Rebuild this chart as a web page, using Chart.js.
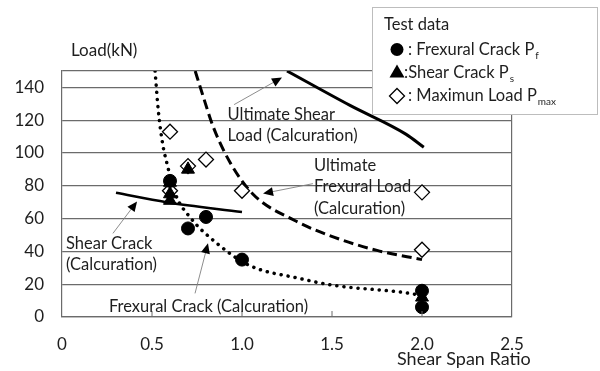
<!DOCTYPE html>
<html>
<head>
<meta charset="utf-8">
<script src="https://cdn.jsdelivr.net/npm/chart.js@4.4.1/dist/chart.umd.min.js"></script>
<style>
  html, body { margin: 0; background: #fff; }
</style>
</head>
<body>
<canvas id="chart" width="600" height="371"></canvas>
<script>
// test data (shear span ratio, load kN)
const flexCrackX = [0.6, 0.7, 0.8, 1.0, 2.0, 2.0];
const flexCrackY = [83, 54, 61, 35, 16, 6];
const shearCrackX = [0.6, 0.6, 0.6, 0.7, 2.0];
const shearCrackY = [82, 75, 71, 90, 12];
const maxLoadX = [0.6, 0.6, 0.7, 0.8, 1.0, 2.0, 2.0];
const maxLoadY = [113, 77, 92, 96, 77, 76, 41];

// calculated curves
const calcFlexCrackX = [0.517, 0.535, 0.56, 0.58, 0.63, 0.71, 0.86, 1.04, 1.32, 1.51, 1.88, 2.0];
const calcFlexCrackY = [150, 126, 105, 95, 75, 61, 45, 31.5, 23.5, 19.3, 15.2, 13.2];
const calcFlexLoadX = [0.74, 0.78, 0.84, 0.93, 1.06, 1.29, 1.51, 1.75, 2.0];
const calcFlexLoadY = [150, 136, 116, 95, 75, 59, 48.7, 40.6, 35];
const calcShearLoadX = [1.25, 1.6, 1.91, 2.01];
const calcShearLoadY = [150, 129, 111.5, 103.5];
const calcShearCrackX = [0.3, 0.58, 1.0];
const calcShearCrackY = [75.7, 70, 64];

const xTicks = [0, 0.5, 1, 1.5, 2, 2.5];
const yTicks = [0, 20, 40, 60, 80, 100, 120, 140];

const FONT = "Lato, 'Open Sans', sans-serif";
const TEXT = "#1e1e1e";
const GRID = "#6b6b6b";

const pts = (xs, ys) => xs.map((x, i) => ({ x, y: ys[i] }));

function arrow(ctx, x1, y1, x2, y2) {
  const ang = Math.atan2(y2 - y1, x2 - x1);
  ctx.strokeStyle = "#808080";
  ctx.lineWidth = 0.9;
  ctx.beginPath();
  ctx.moveTo(x1, y1);
  ctx.lineTo(x2 - 6 * Math.cos(ang), y2 - 6 * Math.sin(ang));
  ctx.stroke();
  ctx.fillStyle = "#000";
  ctx.beginPath();
  ctx.moveTo(x2, y2);
  ctx.lineTo(x2 - 10 * Math.cos(ang) + 4.5 * Math.sin(ang), y2 - 10 * Math.sin(ang) - 4.5 * Math.cos(ang));
  ctx.lineTo(x2 - 10 * Math.cos(ang) - 4.5 * Math.sin(ang), y2 - 10 * Math.sin(ang) + 4.5 * Math.cos(ang));
  ctx.closePath();
  ctx.fill();
}

// labels on the plot, placed in data units
const notes = [
  { lines: ["Ultimate Shear", "Load (Calcuration)"], x: 0.92, y: 123.4, from: [0.956, 129.5], to: [1.222, 146] },
  { lines: ["Ultimate", "Frexural Load", "(Calcuration)"], x: 1.40, y: 92.4, from: [1.394, 81.3], to: [1.117, 75.3] },
  { lines: ["Shear Crack", "(Calcuration)"], x: 0.022, y: 44.9, from: [0.283, 51], to: [0.417, 70.5] },
  { lines: ["Frexural Crack (Calcuration)"], x: 0.261, y: 6.5, from: [0.739, 14.4], to: [0.811, 44.9] },
];

const decor = {
  id: "decor",
  afterDatasetsDraw(chart) {
    const { ctx, scales: { x, y } } = chart;
    ctx.save();
    // small inner tick marks on the x axis
    ctx.strokeStyle = GRID;
    ctx.lineWidth = 1;
    xTicks.slice(1, -1).forEach((t) => {
      const px = x.getPixelForValue(t);
      ctx.beginPath();
      ctx.moveTo(px, y.bottom);
      ctx.lineTo(px, y.bottom - 6);
      ctx.stroke();
    });
    // annotations
    ctx.font = "16.5px " + FONT;
    ctx.textBaseline = "middle";
    notes.forEach((n) => {
      arrow(ctx, x.getPixelForValue(n.from[0]), y.getPixelForValue(n.from[1]),
        x.getPixelForValue(n.to[0]), y.getPixelForValue(n.to[1]));
      ctx.fillStyle = TEXT;
      const x0 = x.getPixelForValue(n.x);
      const y0 = y.getPixelForValue(n.y);
      n.lines.forEach((s, i) => ctx.fillText(s, x0, y0 + i * 21.5));
    });
    // axis titles
    ctx.fillStyle = TEXT;
    ctx.textAlign = "left";
    ctx.font = "17px " + FONT;
    ctx.fillText("Load(kN)", 71, 51);
    ctx.font = "18px " + FONT;
    ctx.fillText("Shear Span Ratio", 397, 359);
    ctx.restore();
  },
  afterDraw(chart) {
    const { ctx } = chart;
    ctx.save();
    // legend box
    ctx.fillStyle = "#fff";
    ctx.fillRect(372, 7, 226, 108);
    ctx.strokeStyle = "#bdbdbd";
    ctx.lineWidth = 1;
    ctx.strokeRect(372.5, 7.5, 225, 107);
    ctx.fillStyle = TEXT;
    ctx.textBaseline = "middle";
    ctx.font = "16.5px " + FONT;
    ctx.fillText("Test data", 384, 25);
    // markers
    ctx.fillStyle = "#000";
    ctx.beginPath();
    ctx.arc(397, 49.5, 6.5, 0, Math.PI * 2);
    ctx.fill();
    ctx.beginPath();
    ctx.moveTo(397, 64.5);
    ctx.lineTo(404.5, 77.5);
    ctx.lineTo(389.5, 77.5);
    ctx.closePath();
    ctx.fill();
    ctx.strokeStyle = "#000";
    ctx.lineWidth = 1.3;
    ctx.beginPath();
    ctx.moveTo(397, 88.5);
    ctx.lineTo(404.5, 96);
    ctx.lineTo(397, 103.5);
    ctx.lineTo(389.5, 96);
    ctx.closePath();
    ctx.stroke();
    // entries with subscripts
    const rows = [
      [": Frexural Crack P", "f", 408, 50],
      [":Shear Crack P", "s", 404, 73],
      [": Maximun Load P", "max", 408, 96],
    ];
    ctx.fillStyle = TEXT;
    rows.forEach(([main, sub, lx, ly]) => {
      ctx.font = "16.5px " + FONT;
      ctx.fillText(main, lx, ly);
      const w = ctx.measureText(main).width;
      ctx.font = "10px " + FONT;
      ctx.fillText(sub, lx + w + 1, ly + 6);
    });
    ctx.restore();
  },
};

new Chart(document.getElementById("chart"), {
  type: "scatter",
  data: {
    datasets: [
      {
        label: "Shear Crack Ps",
        data: pts(shearCrackX, shearCrackY),
        pointStyle: "triangle",
        pointRadius: 7.5,
        backgroundColor: "#000",
        borderColor: "#000",
      },
      {
        label: "Frexural Crack Pf",
        data: pts(flexCrackX, flexCrackY),
        pointStyle: "circle",
        pointRadius: 6.5,
        backgroundColor: "#000",
        borderColor: "#000",
      },
      {
        label: "Maximun Load Pmax",
        data: pts(maxLoadX, maxLoadY),
        pointStyle: "rectRot",
        pointRadius: 7.5,
        backgroundColor: "#fff",
        borderColor: "#000",
        borderWidth: 1.3,
      },
      {
        label: "Frexural Crack (Calc)",
        data: pts(calcFlexCrackX, calcFlexCrackY),
        showLine: true,
        pointRadius: 0,
        borderColor: "#000",
        borderWidth: 3.5,
        borderDash: [0.1, 7],
        borderCapStyle: "round",
        cubicInterpolationMode: "monotone",
      },
      {
        label: "Ultimate Frexural Load (Calc)",
        data: pts(calcFlexLoadX, calcFlexLoadY),
        showLine: true,
        pointRadius: 0,
        borderColor: "#000",
        borderWidth: 3,
        borderDash: [10, 5],
        cubicInterpolationMode: "monotone",
      },
      {
        label: "Ultimate Shear Load (Calc)",
        data: pts(calcShearLoadX, calcShearLoadY),
        showLine: true,
        pointRadius: 0,
        borderColor: "#000",
        borderWidth: 3,
        cubicInterpolationMode: "monotone",
      },
      {
        label: "Shear Crack (Calc)",
        data: pts(calcShearCrackX, calcShearCrackY),
        showLine: true,
        pointRadius: 0,
        borderColor: "#000",
        borderWidth: 2.5,
        cubicInterpolationMode: "monotone",
      },
    ],
  },
  options: {
    responsive: false,
    animation: false,
    layout: { padding: { top: 71, right: 88, left: 0, bottom: 0 } },
    plugins: { legend: { display: false }, tooltip: { enabled: false } },
    scales: {
      x: {
        type: "linear",
        min: 0,
        max: 2.5,
        afterFit: (s) => { s.height = 54; },
        afterBuildTicks: (s) => { s.ticks = xTicks.map((v) => ({ value: v })); },
        ticks: { color: TEXT, font: { family: FONT, size: 17 }, padding: 17, maxRotation: 0 },
        grid: {
          drawTicks: false,
          color: (c) => (c.tick && c.tick.value === 2.5 ? GRID : "transparent"),
          lineWidth: 1.2,
        },
        border: { display: true, color: GRID, width: 1.2 },
      },
      y: {
        min: 0,
        max: 150,
        afterFit: (s) => { s.width = 62; },
        afterBuildTicks: (s) => { s.ticks = yTicks.concat([150]).map((v) => ({ value: v })); },
        ticks: {
          color: TEXT,
          font: { family: FONT, size: 17 },
          padding: 18,
          callback: (v) => (v === 150 ? "" : v),
        },
        grid: { drawTicks: false, color: GRID, lineWidth: 1.2 },
        border: { display: true, color: GRID, width: 1.2 },
      },
    },
  },
  plugins: [decor],
});
</script>
</body>
</html>
